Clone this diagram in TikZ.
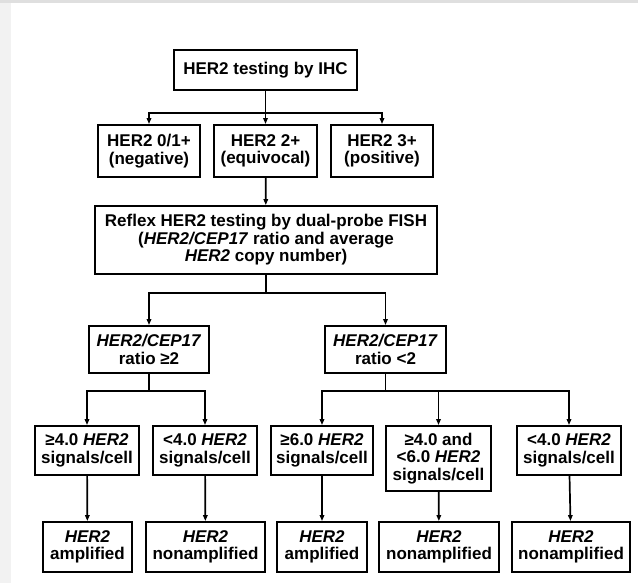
\documentclass[tikz,border=0pt]{standalone}
\usepackage{fontspec}
\setmainfont{Liberation Sans}
\usetikzlibrary{arrows.meta,positioning}

\begin{document}
\begin{tikzpicture}[x=1pt,y=-1pt,>={Triangle[length=6pt,width=4.5pt]},
    every node/.style={font=\bfseries\fontsize{17}{17.5}\selectfont,align=center,inner sep=0pt},
    box/.style={draw,line width=1.9pt},
    link/.style={line width=1.7pt}]
    \useasboundingbox (0,0) rectangle (638,583);
    \fill[gray!10] (0,0) rectangle (11,583);
    \fill[gray!25] (0,0) rectangle (638,3);

    \node[box,minimum width=183pt,minimum height=40pt] (ihc) at (265.5,70) {HER2 testing by IHC};
    \node[box,minimum width=102pt,minimum height=52pt] (neg) at (149,151) {HER2 0/1+\\(negative)};
    \node[box,minimum width=103pt,minimum height=52pt] (equiv) at (265.5,151) {HER2 2+\\(equivocal)};
    \node[box,minimum width=102pt,minimum height=52pt] (pos) at (382,151) {HER2 3+\\(positive)};
    \node[box,minimum width=342pt,minimum height=68pt] (fish) at (266,240)
        {Reflex HER2 testing by dual-probe FISH\\(\textit{HER2/CEP17} ratio and average\\\textit{HER2} copy number)};
    \node[box,minimum width=120pt,minimum height=47pt] (rhi) at (149,349.5) {\textit{HER2/CEP17}\\ratio ≥2};
    \node[box,minimum width=121pt,minimum height=47pt] (rlo) at (385.5,349.5) {\textit{HER2/CEP17}\\ratio <2};

    \node[box,minimum width=104pt,minimum height=49pt] (s1) at (87,450.5) {≥4.0 \textit{HER2}\\signals/cell};
    \node[box,minimum width=104pt,minimum height=49pt] (s2) at (205,450.5) {<4.0 \textit{HER2}\\signals/cell};
    \node[box,minimum width=102pt,minimum height=49pt] (s3) at (322,450.5) {≥6.0 \textit{HER2}\\signals/cell};
    \node[box,minimum width=105pt,minimum height=65pt] (s4) at (438.5,458.5) {≥4.0 and\\<6.0 \textit{HER2}\\signals/cell};
    \node[box,minimum width=104pt,minimum height=49pt] (s5) at (569,450.5) {<4.0 \textit{HER2}\\signals/cell};

    \node[box,minimum width=89pt,minimum height=50pt] (r1) at (87.5,547) {\textit{HER2}\\amplified};
    \node[box,minimum width=119pt,minimum height=50pt] (r2) at (205.5,547) {\textit{HER2}\\nonamplified};
    \node[box,minimum width=90pt,minimum height=50pt] (r3) at (322,547) {\textit{HER2}\\amplified};
    \node[box,minimum width=120pt,minimum height=50pt] (r4) at (439,547) {\textit{HER2}\\nonamplified};
    \node[box,minimum width=118pt,minimum height=50pt] (r5) at (571,547) {\textit{HER2}\\nonamplified};

    % branch points
    \coordinate (b1) at (265.5,113);
    \coordinate (b2) at (266,293);
    \coordinate (b3) at (149,391);
    \coordinate (b4) at (385.5,391);

    \draw[link] (ihc) -- (b1);
    \draw[link,->] (b1) -| (neg);
    \draw[link,->] (b1) -- (equiv);
    \draw[link,->] (b1) -| (pos);
    \draw[link,->] (equiv) -- (fish);
    \draw[link] (fish) -- (b2);
    \draw[link,->] (b2) -| (rhi);
    \draw[link,->] (b2) -| (rlo);
    \draw[link] (rhi) -- (b3);
    \draw[link,->] (b3) -| (s1);
    \draw[link,->] (b3) -| (s2);
    \draw[link] (rlo) -- (b4);
    \draw[link,->] (b4) -| (s3);
    \draw[link,->] (b4) -| (s4);
    \draw[link,->] (b4) -| (s5);
    \draw[link,->] (s1) -- (r1);
    \draw[link,->] (s2) -- (r2);
    \draw[link,->] (s3) -- (r3);
    \draw[link,->] (s4) -- (r4);
    \draw[link,->] (s5) -- (r5);
  \end{tikzpicture}
\end{document}
